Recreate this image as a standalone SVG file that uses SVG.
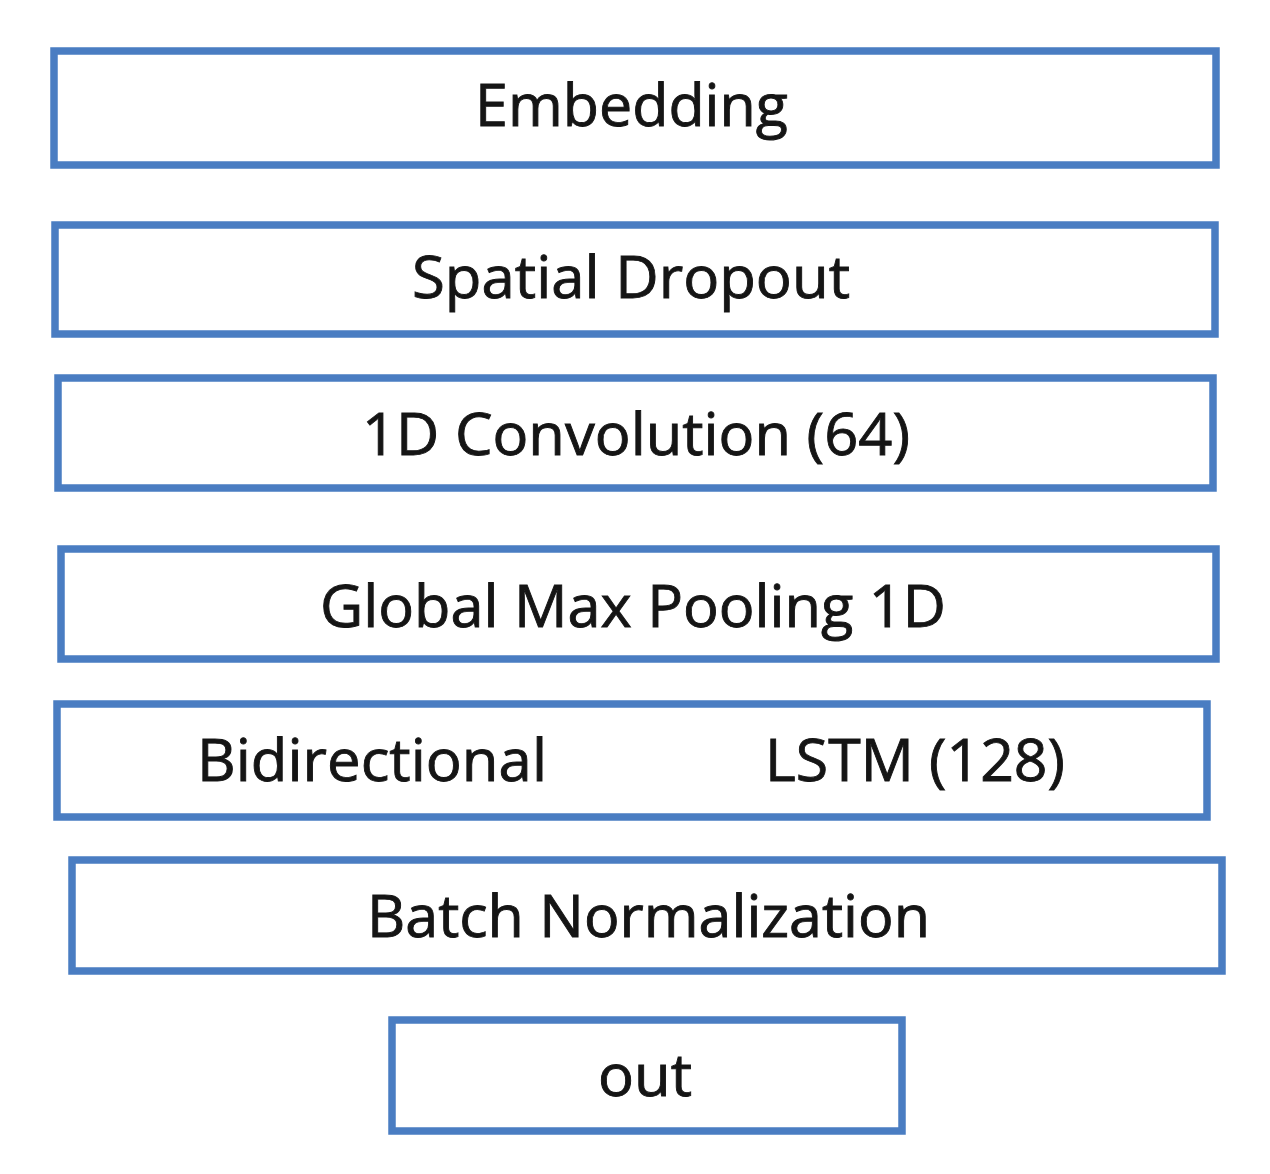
<svg xmlns="http://www.w3.org/2000/svg" width="1270" height="1174" viewBox="0 0 1270 1174">
<style>
.box{fill:#ffffff;stroke:#4a7dc2;stroke-width:7.5}
.lbl{font-family:"Open Sans","Noto Sans",sans-serif;font-size:59px;fill:#151515;stroke:#151515;stroke-width:0.9;text-anchor:middle}
</style>
<rect width="1270" height="1174" fill="#ffffff"/>
<g id="connectors"></g>
<g id="embedding"><rect class="box" x="54" y="51" width="1162" height="114"/><text class="lbl" x="631.5" y="126" textLength="313" lengthAdjust="spacingAndGlyphs">Embedding</text></g>
<g id="spatial-dropout"><rect class="box" x="55" y="225" width="1160" height="109"/><text class="lbl" x="631" y="298" textLength="438" lengthAdjust="spacingAndGlyphs">Spatial Dropout</text></g>
<g id="conv1d"><rect class="box" x="58" y="378" width="1155" height="110"/><text class="lbl" x="636" y="455" textLength="548" lengthAdjust="spacingAndGlyphs">1D Convolution (64)</text></g>
<g id="global-max-pooling"><rect class="box" x="61" y="549" width="1155" height="110"/><text class="lbl" x="633" y="627" textLength="626" lengthAdjust="spacingAndGlyphs">Global Max Pooling 1D</text></g>
<g id="bilstm"><rect class="box" x="57" y="704" width="1150" height="113"/><text class="lbl" x="372" y="781" textLength="350" lengthAdjust="spacingAndGlyphs">Bidirectional</text><text class="lbl" x="915" y="781" textLength="300" lengthAdjust="spacingAndGlyphs">LSTM (128)</text></g>
<g id="batch-normalization"><rect class="box" x="72" y="860" width="1150" height="111"/><text class="lbl" x="648.5" y="937" textLength="563" lengthAdjust="spacingAndGlyphs">Batch Normalization</text></g>
<g id="out"><rect class="box" x="392" y="1020" width="510" height="111"/><text class="lbl" x="645" y="1096" textLength="94" lengthAdjust="spacingAndGlyphs">out</text></g>
</svg>
